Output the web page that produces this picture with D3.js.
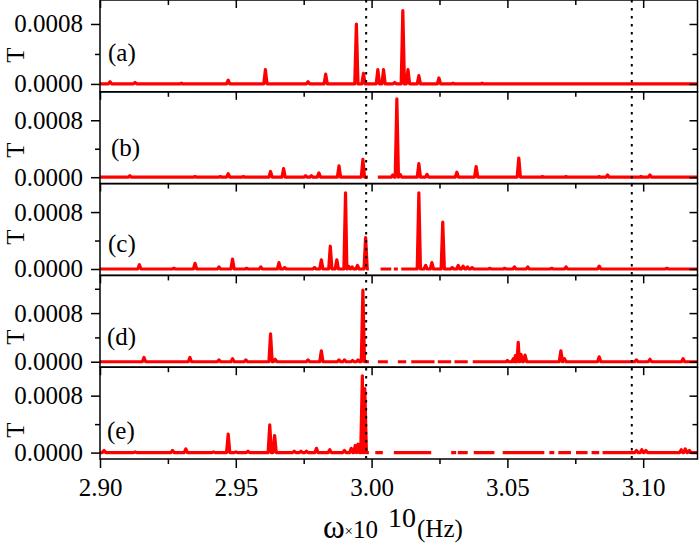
<!DOCTYPE html>
<html><head><meta charset="utf-8">
<script src="https://cdn.jsdelivr.net/npm/d3@7"></script>
<style>body{margin:0;background:#fff}svg{display:block}</style>
</head><body><svg id="c" width="699" height="546"></svg>
<script>
// ---------- data ----------
const panelNames = ["(a)", "(b)", "(c)", "(d)", "(e)"];
const xDomain = [2.90, 3.12];
const xTicksMajor = [2.90, 2.95, 3.00, 3.05, 3.10];
const xTicksMinor = [2.925, 2.975, 3.025, 3.075];
const yTicksMajor = [0.0000, 0.0008];
const yTicksMinor = [0.0004, 0.0012];
const yDomains = [
  [-0.000105, 0.00112],
  [-0.00009, 0.0012],
  [-0.00009, 0.0012],
  [-0.00009, 0.00142],
  [-0.00009, 0.0012]
];
const markerLines = [2.998, 3.0958];

// peaks: [frequency (x1e10 Hz), T]
const peaksA = [
  [2.9037,0.00003],[2.9129,0.00002],[2.9300,0.00001],[2.9472,0.00005],[2.9609,0.00019],
  [2.9766,0.00003],[2.9831,0.00013],[2.9944,0.00080],[2.9970,0.00014],[3.0023,0.00019],
  [3.0044,0.00019],[3.0085,0.00002],[3.0115,0.00098],[3.0134,0.00019],[3.0174,0.00011],
  [3.0248,0.00008],[3.0300,0.00001],[3.0407,0.00001]
];
const peaksB = [
  [2.9110,0.00002],[2.9350,0.00001],[2.9443,0.00001],[2.9472,0.00005],[2.9528,0.00001],
  [2.9628,0.00008],[2.9676,0.00012],[2.9757,0.00002],[2.9778,0.00002],[2.9806,0.00006],
  [2.9880,0.00016],[2.9968,0.00025],
  [3.0078,0.00003],[3.0093,0.00110],[3.0105,0.00004],[3.0174,0.00019],[3.0204,0.00004],
  [3.0314,0.00007],[3.0385,0.00015],[3.0542,0.00027],[3.0629,0.00001],[3.0716,0.00001],
  [3.0838,0.00001],[3.0869,0.00003],[3.0992,0.00001],[3.1025,0.00003]
];
const peaksC = [
  [2.9145,0.00006],[2.9272,0.00001],[2.9350,0.00008],[2.9438,0.00003],[2.9488,0.00014],
  [2.9540,0.00001],[2.9592,0.00003],[2.9659,0.00009],[2.9680,0.00002],[2.9790,0.00002],
  [2.9815,0.00013],[2.9848,0.00032],[2.9872,0.00013],[2.9904,0.00107],[2.9915,0.00004],
  [2.9928,0.00003],[2.9948,0.00005],[2.9978,0.00044],
  [3.0174,0.00107],[3.0199,0.00005],[3.0222,0.00009],[3.0262,0.00066],[3.0297,0.00002],
  [3.0319,0.00005],[3.0337,0.00004],[3.0353,0.00003],[3.0370,0.00002],[3.0435,0.00001],
  [3.0490,0.00001],[3.0526,0.00003],[3.0575,0.00003],[3.0663,0.00001],[3.0716,0.00003],
  [3.0838,0.00004],[3.1087,0.00001]
];
const peaksD = [
  [2.9162,0.00007],[2.9331,0.00007],[2.9438,0.00003],[2.9488,0.00005],[2.9537,0.00003],
  [2.9628,0.00046],[2.9645,0.00004],[2.9766,0.00003],[2.9815,0.00018],[2.9880,0.00003],
  [2.9900,0.00003],[2.9930,0.00002],[2.9950,0.00003],[2.9968,0.00118],
  [3.0500,0.00002],[3.0522,0.00005],[3.0529,0.00010],[3.0540,0.00032],[3.0550,0.00012],
  [3.0565,0.00011],[3.0697,0.00018],[3.0710,0.00005],[3.0838,0.00008],[3.0975,0.00003],
  [3.1025,0.00004],[3.1147,0.00005]
];
const peaksE = [
  [2.9015,0.00003],[2.9129,0.00001],[2.9267,0.00003],[2.9316,0.00005],[2.9418,0.00001],
  [2.9472,0.00026],[2.9500,0.00001],[2.9545,0.00002],[2.9625,0.00039],[2.9643,0.00024],
  [2.9715,0.00002],[2.9740,0.00002],[2.9760,0.00002],[2.9797,0.00006],[2.9846,0.00004],
  [2.9900,0.00003],[2.9925,0.00006],[2.9940,0.00010],[2.9950,0.00012],[2.9966,0.00108],
  [2.9975,0.00090],
  [3.0975,0.00003],[3.0995,0.00004],[3.1010,0.00003],[3.1140,0.00004],[3.1155,0.00005],
  [3.1170,0.00003]
];
// continuous pieces of each trace (gaps = missing data)
const segmentsA = [[2.90,3.12]];
const segmentsB = [[2.90,2.99864],[3.00232,3.12]];
const segmentsC = [[2.90,2.99900],[3.00331,3.00724],[3.00820,3.00967],[3.01092,3.12]];
const segmentsD = [[2.90,2.99900],[3.00232,3.00599],[3.00967,3.01276],[3.01460,3.02316],
  [3.02438,3.02930],[3.03051,3.03540],[3.03724,3.12]];
const segmentsE = [[2.90,2.99900],[3.00136,3.00415],[3.00820,3.02195],[3.02930,3.03114],
  [3.03173,3.03540],[3.03761,3.04522],[3.04827,3.06360],[3.06544,3.06728],[3.06875,3.07342],
  [3.07526,3.07952],[3.08099,3.08382],[3.08504,3.12]];

const peaks = [peaksA, peaksB, peaksC, peaksD, peaksE];
const segments = [segmentsA, segmentsB, segmentsC, segmentsD, segmentsE];

// ---------- layout ----------
const svg = d3.select("#c");
const FONT = "'Liberation Serif','Times New Roman',serif";
const left = 100, right = 697.5, top0 = 0, bottom = 459;
const ph = (bottom - top0) / 5;
const halfW = 0.0006;
const labelOffsets = [61, 64.5, 68, 69.5, 71.7];
const labelX = [108, 111, 108, 107, 107];
const tCenters = [55, 150, 237, 337, 430];

const x = d3.scaleLinear().domain(xDomain).range([left, right]);

function styleAxis(g, size) {
  g.attr("font-family", FONT).attr("font-size", size);
  g.select(".domain").remove();
  g.selectAll("line").attr("stroke", "#000").attr("stroke-width", 1.5);
  g.selectAll("text").attr("fill", "#000");
}

const defs = svg.append("defs");

peaks.forEach((pk, i) => {
  const t = top0 + i * ph;
  const y = d3.scaleLinear().domain(yDomains[i]).range([t + ph, t]);
  const g = svg.append("g");

  defs.append("clipPath").attr("id", "clip" + i)
    .append("rect").attr("x", left).attr("y", t).attr("width", right - left).attr("height", ph);

  // trace
  const line = d3.line().x(d => x(d[0])).y(d => y(d[1]));
  const lg = g.append("g").attr("clip-path", `url(#clip${i})`);
  segments[i].forEach(([s0, s1]) => {
    let pts = [[s0, 0], [s1, 0]];
    pk.filter(p => p[0] >= s0 && p[0] <= s1).forEach(p => {
      pts.push([Math.max(s0, p[0] - halfW), 0], [p[0], p[1]], [Math.min(s1, p[0] + halfW), 0]);
    });
    pts.sort((a, b) => a[0] - b[0]);
    lg.append("path").datum(pts).attr("d", line)
      .attr("fill", "none").attr("stroke", "#ff0000").attr("stroke-width", 3.2)
      .attr("stroke-linejoin", "round").attr("stroke-linecap", "butt");
  });

  // left axis
  const yl = g.append("g").attr("transform", `translate(${left},0)`)
    .call(d3.axisLeft(y).tickValues(yTicksMajor).tickFormat(d3.format(".4f")).tickSize(9).tickPadding(8));
  styleAxis(yl, 25);
  const ylm = g.append("g").attr("transform", `translate(${left},0)`)
    .call(d3.axisLeft(y).tickValues(yTicksMinor.filter(v => v < yDomains[i][1])).tickFormat("").tickSize(5));
  styleAxis(ylm, 25);
  // right axis (inward)
  const yr = g.append("g").attr("transform", `translate(${right},0)`)
    .call(d3.axisRight(y).tickValues(yTicksMajor).tickFormat("").tickSize(-8));
  styleAxis(yr, 25);
  const yrm = g.append("g").attr("transform", `translate(${right},0)`)
    .call(d3.axisRight(y).tickValues(yTicksMinor.filter(v => v < yDomains[i][1])).tickFormat("").tickSize(-5));
  styleAxis(yrm, 25);
  // top axis (inward)
  const xt = g.append("g").attr("transform", `translate(0,${t})`)
    .call(d3.axisTop(x).tickValues(xTicksMajor).tickFormat("").tickSize(-8));
  styleAxis(xt, 25);
  const xtm = g.append("g").attr("transform", `translate(0,${t})`)
    .call(d3.axisTop(x).tickValues(xTicksMinor).tickFormat("").tickSize(-5));
  styleAxis(xtm, 25);

  // frame
  g.append("rect").attr("x", left).attr("y", t).attr("width", right - left).attr("height", ph)
    .attr("fill", "none").attr("stroke", "#000").attr("stroke-width", 1.5);

  // panel label
  g.append("text").attr("x", labelX[i]).attr("y", t + labelOffsets[i])
    .attr("font-family", FONT).attr("font-size", 25).text(panelNames[i]);

  // y title
  g.append("text").attr("transform", `translate(15,${tCenters[i]}) rotate(-90)`)
    .attr("text-anchor", "middle").attr("dominant-baseline", "central")
    .attr("font-family", FONT).attr("font-size", 25).text("T");
});

// bottom axis
const xb = svg.append("g").attr("transform", `translate(0,${bottom})`)
  .call(d3.axisBottom(x).tickValues(xTicksMajor).tickFormat(d3.format(".2f")).tickSize(9).tickPadding(10));
styleAxis(xb, 25);
const xbm = svg.append("g").attr("transform", `translate(0,${bottom})`)
  .call(d3.axisBottom(x).tickValues(xTicksMinor).tickFormat("").tickSize(5));
styleAxis(xbm, 25);

// dotted reference lines
svg.append("g").selectAll("line").data(markerLines).join("line")
  .attr("x1", d => x(d)).attr("x2", d => x(d)).attr("y1", top0).attr("y2", bottom)
  .attr("stroke", "#000").attr("stroke-width", 2).attr("stroke-dasharray", "2.5,5.5");

// x title
const tg = svg.append("g").attr("font-family", FONT).attr("fill", "#000");
tg.append("text").attr("x", 323).attr("y", 538).attr("font-size", 33).text("ω");
tg.append("text").attr("x", 344.5).attr("y", 536).attr("font-size", 15).text("×");
tg.append("text").attr("x", 353).attr("y", 538).attr("font-size", 25).text("10");
tg.append("text").attr("x", 388).attr("y", 527).attr("font-size", 28).text("10");
tg.append("text").attr("x", 417).attr("y", 537).attr("font-size", 25).text("(Hz)");
</script>
</body></html>
